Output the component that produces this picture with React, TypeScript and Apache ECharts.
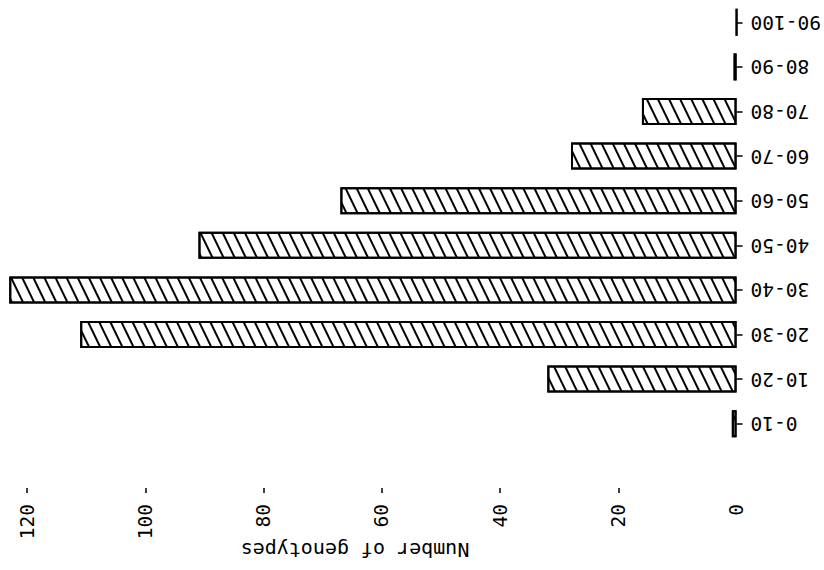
import React, { useEffect, useRef } from "react";
import * as echarts from "echarts";

const categories = ["0-10", "10-20", "20-30", "30-40", "40-50", "50-60", "60-70", "70-80", "80-90", "90-100"];
const genotypeCounts = [0.8, 32, 111, 123, 91, 67, 28, 16, 0.5, 0];
const valueTicks = [20, 40, 60, 80, 100, 120];
const axisTitle = "Number of genotypes";

const FONT = "'DejaVu Sans Mono', 'Liberation Mono', monospace";

export default function App() {
  const ref = useRef<HTMLDivElement>(null);
  useEffect(() => {
    if (!ref.current) return;
    const chart = echarts.init(ref.current, null, { renderer: "svg" });
    chart.setOption({
      animation: false,
      backgroundColor: "#ffffff",
      grid: { left: 27, right: 84, top: -8, bottom: 124, containLabel: false },
      xAxis: {
        type: "value",
        inverse: true,
        min: 0,
        max: 120,
        interval: 20,
        position: "bottom",
        offset: 42,
        splitLine: { show: false },
        axisLine: { show: false },
        axisTick: { show: true, length: 5, customValues: valueTicks, lineStyle: { color: "#000", width: 1.5 } },
        axisLabel: {
          rotate: 90,
          margin: 16,
          color: "#000",
          fontFamily: FONT,
          fontSize: 19.5,
        },
      },
      yAxis: {
        type: "category",
        data: categories,
        position: "right",
        axisLine: { show: false },
        axisTick: { show: true, alignWithLabel: true, length: 6, lineStyle: { color: "#000", width: 1.5 } },
        axisLabel: {
          rotate: 180,
          margin: 14,
          color: "#000",
          fontFamily: FONT,
          fontSize: 19.5,
        },
        splitLine: { show: false },
      },
      series: [
        {
          type: "bar",
          data: genotypeCounts,
          barWidth: 27,
          clip: false,
          itemStyle: {
            color: "#ffffff",
            borderColor: "#000",
            borderWidth: 2,
            decal: {
              symbol: "rect",
              symbolSize: 1,
              color: "#000",
              backgroundColor: "#ffffff",
              dashArrayX: [1, 0],
              dashArrayY: [2, 8],
              rotation: 1.12,
            },
          },
        },
      ],
      graphic: [
        {
          type: "text",
          x: 355,
          y: 550,
          rotation: Math.PI,
          style: {
            text: axisTitle,
            fill: "#000",
            font: `20px ${FONT}`,
            align: "center",
            verticalAlign: "middle",
          },
        },
      ],
    });
    return () => chart.dispose();
  }, []);
  return <div ref={ref} style={{ width: 824, height: 570, position: "absolute", left: 0, top: 0 }} />;
}
